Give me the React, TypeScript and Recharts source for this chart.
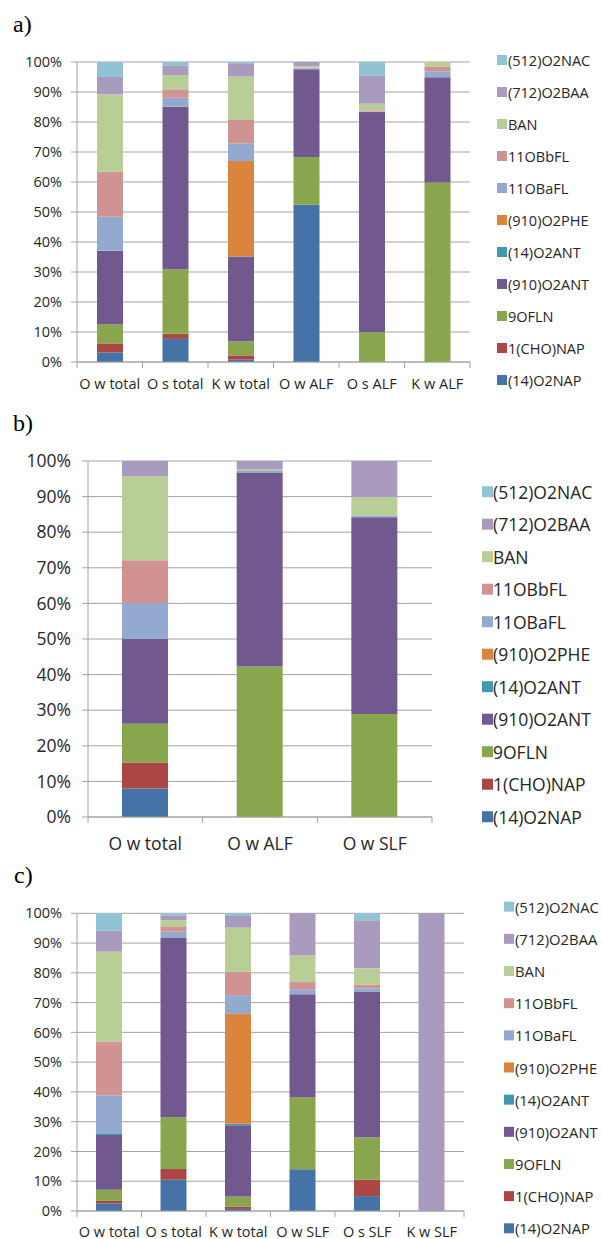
import React from 'react'
import { BarChart, Bar, XAxis, YAxis, CartesianGrid } from 'recharts'

// stacking order, bottom to top
const seriesNames = [
  '(14)O2NAP',
  '1(CHO)NAP',
  '9OFLN',
  '(910)O2ANT',
  '(14)O2ANT',
  '(910)O2PHE',
  '11OBaFL',
  '11OBbFL',
  'BAN',
  '(712)O2BAA',
  '(512)O2NAC',
]
const seriesColors = [
  '#4572A7',
  '#AA4643',
  '#89A54E',
  '#71588F',
  '#4198AF',
  '#DB843D',
  '#93A9CF',
  '#D19392',
  '#B9CD96',
  '#A99BBD',
  '#92C3D4',
]

const yTicks = [0, 0.1, 0.2, 0.3, 0.4, 0.5, 0.6, 0.7, 0.8, 0.9, 1]

// a) shares (%) per sample, in seriesNames order
const catsA = ['O w total', 'O s total', 'K w total', 'O w ALF', 'O s ALF', 'K w ALF']
const aOwTotal = [3.2, 3.0, 6.4, 24.5, 0, 0, 11.3, 15.0, 25.8, 5.8, 5.0]
const aOsTotal = [7.7, 1.7, 21.5, 54.2, 0, 0, 3.0, 2.8, 4.7, 3.1, 1.3]
const aKwTotal = [0.8, 1.4, 4.6, 28.2, 0.2, 31.8, 5.9, 7.8, 14.4, 4.5, 0.4]
const aOwAlf = [52.4, 0, 15.9, 29.3, 0, 0, 0.3, 0.2, 0.5, 1.4, 0]
const aOsAlf = [0, 0, 9.9, 73.4, 0, 0, 0.2, 0.4, 2.2, 9.3, 4.6]
const aKwAlf = [0, 0, 59.8, 35.1, 0, 0, 2.0, 1.5, 1.6, 0, 0]

// b)
const catsB = ['O w total', 'O w ALF', 'O w SLF']
const bOwTotal = [8.0, 7.3, 10.9, 23.9, 0, 0, 10.0, 12.0, 23.6, 4.3, 0]
const bOwAlf = [0, 0, 42.3, 54.3, 0, 0, 0.6, 0, 0.4, 2.4, 0]
const bOwSlf = [0, 0, 28.9, 55.3, 0, 0, 0.4, 0, 5.2, 10.2, 0]

// c)
const catsC = ['O w total', 'O s total', 'K w total', 'O w SLF', 'O s SLF', 'K w SLF']
const cOwTotal = [2.5, 0.9, 3.7, 18.4, 0.6, 0, 12.8, 18.0, 30.2, 7.0, 5.9]
const cOsTotal = [10.5, 3.6, 17.4, 60.2, 0, 0, 2.1, 1.6, 2.3, 1.6, 0.7]
const cKwTotal = [0.7, 0.8, 3.4, 23.9, 0.5, 37.0, 6.2, 7.9, 14.8, 3.9, 0.9]
const cOwSlf = [14.0, 0, 24.1, 34.7, 0, 0, 1.7, 2.4, 8.9, 14.2, 0]
const cOsSlf = [5.0, 5.5, 14.3, 48.9, 0, 0, 1.1, 1.3, 5.4, 16.2, 2.3]
const cKwSlf = [0, 0, 0, 0, 0, 0, 0, 0, 0, 100, 0]

function buildRows(cats: string[], values: number[][]) {
  return cats.map((name, i) => {
    const row: Record<string, string | number> = { name }
    seriesNames.forEach((_, j) => {
      row[`s${j}`] = values[i][j]
    })
    return row
  })
}

const dataA = buildRows(catsA, [aOwTotal, aOsTotal, aKwTotal, aOwAlf, aOsAlf, aKwAlf])
const dataB = buildRows(catsB, [bOwTotal, bOwAlf, bOwSlf])
const dataC = buildRows(catsC, [cOwTotal, cOsTotal, cKwTotal, cOwSlf, cOsSlf, cKwSlf])

const FONT = '"Open Sans", "DejaVu Sans", sans-serif'
const AXIS = '#a3a3a3'
const TEXT = '#262626'

// x tick: label under the bar, tick marks on the category boundaries
function CatTick(props: any) {
  const { x, y, payload, index, half, count, fontSize, labelDy } = props
  return (
    <g>
      <line x1={x - half} y1={y} x2={x - half} y2={y + 6} stroke={AXIS} />
      {index === count - 1 && (
        <line x1={x + half} y1={y} x2={x + half} y2={y + 6} stroke={AXIS} />
      )}
      <text
        x={x}
        y={y + labelDy}
        textAnchor="middle"
        dominantBaseline="central"
        fontSize={fontSize}
        fontFamily={FONT}
        fill={TEXT}
      >
        {payload.value}
      </text>
    </g>
  )
}

interface PanelProps {
  data: Record<string, string | number>[]
  top: number
  width: number
  height: number
  marginTop: number
  yAxisWidth: number
  xAxisHeight: number
  barSize: number
  fontSize: number
  yTickMargin: number
  labelDy: number
}

function Panel(p: PanelProps) {
  const plotWidth = p.width - 10 - p.yAxisWidth
  const half = plotWidth / p.data.length / 2
  return (
    <div style={{ position: 'absolute', left: 0, top: p.top }}>
      <BarChart
        width={p.width}
        height={p.height}
        data={p.data}
        stackOffset="expand"
        margin={{ top: p.marginTop, right: 10, bottom: 0, left: 0 }}
      >
        <CartesianGrid vertical={false} stroke={AXIS} />
        <XAxis
          dataKey="name"
          interval={0}
          height={p.xAxisHeight}
          axisLine={{ stroke: AXIS }}
          tickLine={false}
          tickSize={0}
          tickMargin={0}
          tick={(t: any) => (
            <CatTick
              {...t}
              half={half}
              count={p.data.length}
              fontSize={p.fontSize}
              labelDy={p.labelDy}
            />
          )}
        />
        <YAxis
          width={p.yAxisWidth}
          domain={[0, 1]}
          ticks={yTicks}
          interval={0}
          tickFormatter={(v: number) => `${Math.round(v * 100)}%`}
          axisLine={{ stroke: AXIS }}
          tickLine={{ stroke: AXIS }}
          tickSize={6}
          tickMargin={p.yTickMargin}
          tick={{ fontSize: p.fontSize, fill: TEXT, fontFamily: FONT }}
        />
        {seriesNames.map((s, j) => (
          <Bar
            key={s}
            dataKey={`s${j}`}
            name={s}
            stackId="s"
            fill={seriesColors[j]}
            barSize={p.barSize}
            isAnimationActive={false}
          />
        ))}
      </BarChart>
    </div>
  )
}

function LegendBlock({ x, textX, y0, step, size, fontSize }: {
  x: number
  textX: number
  y0: number
  step: number
  size: number
  fontSize: number
}) {
  const items = seriesNames.map((name, j) => ({ name, color: seriesColors[j] })).reverse()
  return (
    <g>
      {items.map((it, i) => {
        const cy = y0 + i * step
        return (
          <g key={it.name}>
            <rect x={x} y={cy - size / 2} width={size} height={size} fill={it.color} />
            <text
              x={textX}
              y={cy}
              dominantBaseline="central"
              fontSize={fontSize}
              fontFamily={FONT}
              fill={TEXT}
            >
              {it.name}
            </text>
          </g>
        )
      })}
    </g>
  )
}

export default function App() {
  return (
    <div style={{ position: 'absolute', left: 0, top: 0, width: 603, height: 1239, background: '#fff' }}>
      <Panel
        data={dataA}
        top={0}
        width={480}
        height={392}
        marginTop={62}
        yAxisWidth={77}
        xAxisHeight={30}
        barSize={26}
        fontSize={14.5}
        yTickMargin={9}
        labelDy={21}
      />
      <Panel
        data={dataB}
        top={395}
        width={442}
        height={462}
        marginTop={66}
        yAxisWidth={88}
        xAxisHeight={40}
        barSize={46}
        fontSize={17.5}
        yTickMargin={11}
        labelDy={26}
      />
      <Panel
        data={dataC}
        top={880}
        width={474}
        height={359}
        marginTop={33.3}
        yAxisWidth={77}
        xAxisHeight={28}
        barSize={26}
        fontSize={14.5}
        yTickMargin={9}
        labelDy={20}
      />
      <svg
        width={603}
        height={1239}
        style={{ position: 'absolute', left: 0, top: 0, pointerEvents: 'none' }}
      >
        <text x={13} y={32} fontSize={24} fontFamily='"Liberation Serif", serif' fill="#000">a)</text>
        <text x={13} y={431} fontSize={24} fontFamily='"Liberation Serif", serif' fill="#000">b)</text>
        <text x={14} y={883} fontSize={24} fontFamily='"Liberation Serif", serif' fill="#000">c)</text>
        <LegendBlock x={497} textX={508} y0={60} step={32} size={10} fontSize={14.5} />
        <LegendBlock x={482} textX={493} y0={491.7} step={32.5} size={11} fontSize={17.5} />
        <LegendBlock x={504} textX={515} y0={906.7} step={32.16} size={10} fontSize={14.8} />
      </svg>
    </div>
  )
}
